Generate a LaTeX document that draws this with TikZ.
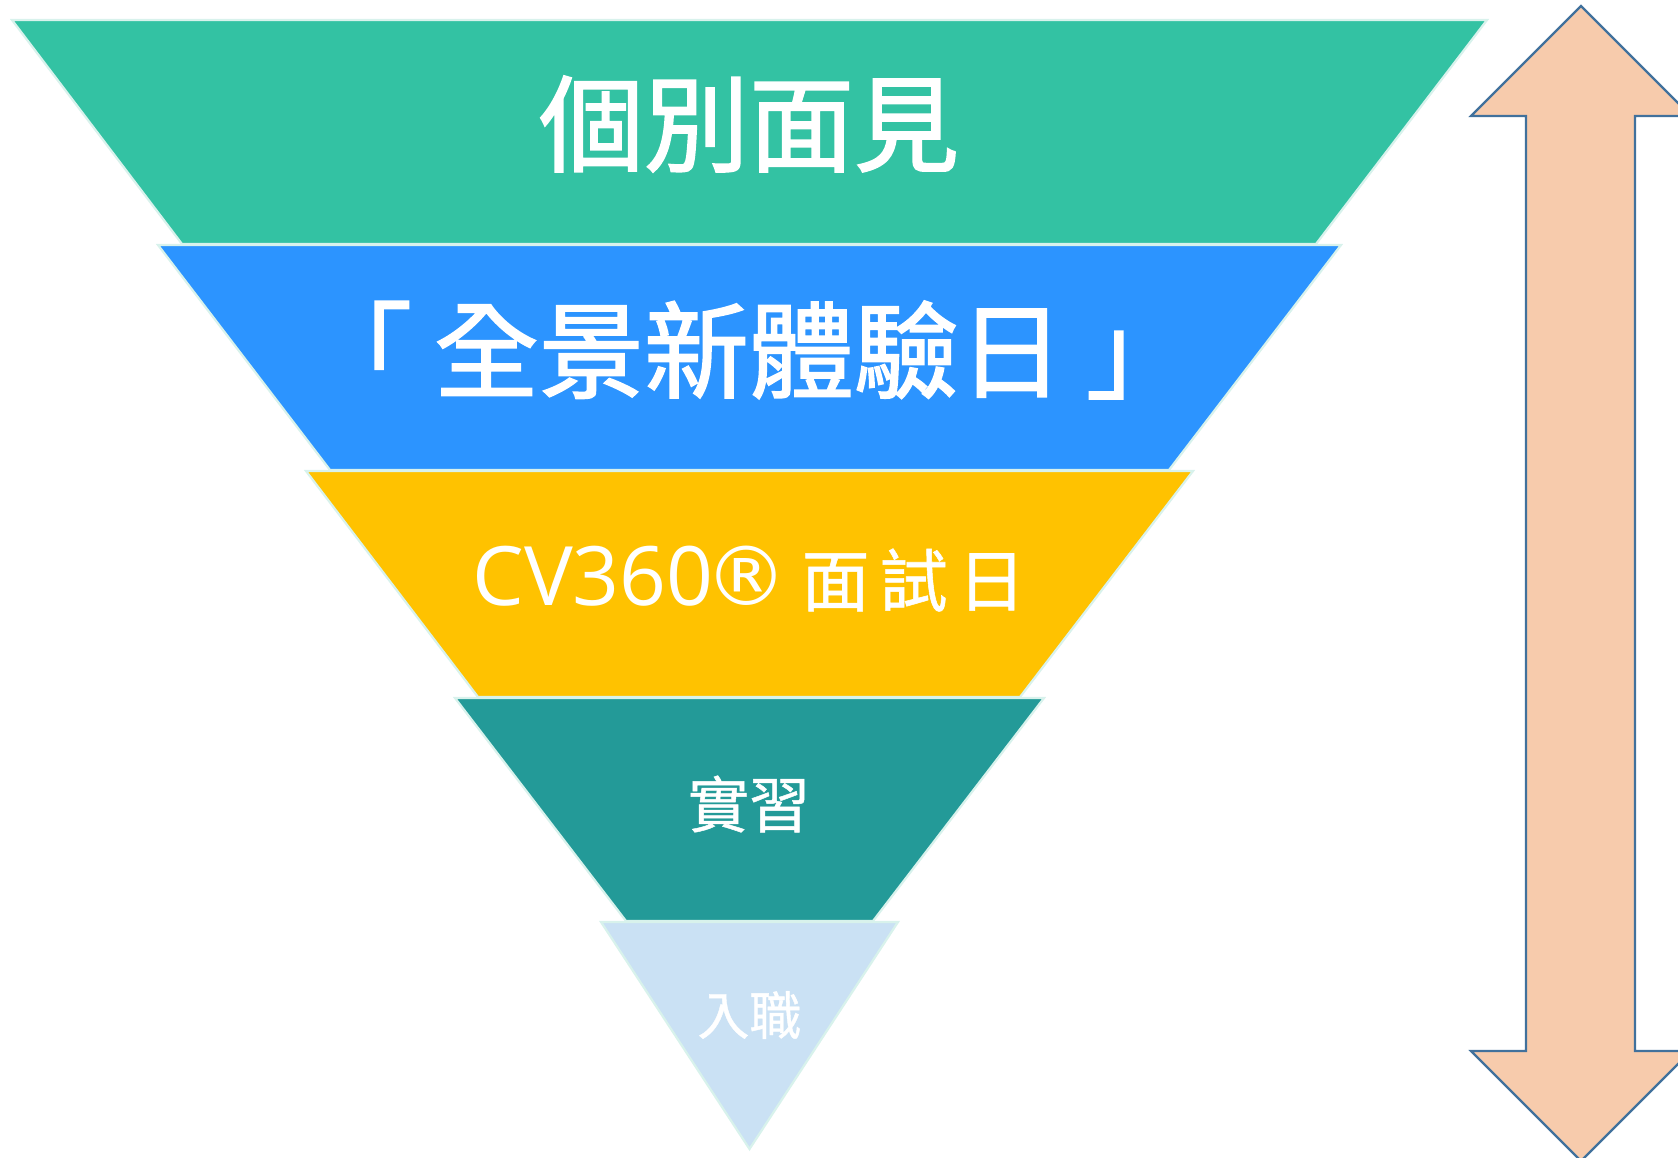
\documentclass[tikz,border=0pt]{standalone}
\usepackage{fontspec}
\newfontfamily\cjk[FakeBold=1.6]{Noto Sans CJK TC}
\newfontfamily\cjkm[FakeBold=0.8]{Noto Sans CJK TC}
\newfontfamily\latn{Open Sans}
\newfontfamily\symb{DejaVu Sans}
\definecolor{cgreen}{HTML}{33C2A3}
\definecolor{cblue}{HTML}{2C94FF}
\definecolor{cyellow}{HTML}{FFC200}
\definecolor{cteal}{HTML}{239A98}
\definecolor{clight}{HTML}{CAE1F4}
\definecolor{cedge}{HTML}{D8F2EC}
\definecolor{apeach}{HTML}{F7CBAC}
\definecolor{aline}{HTML}{41719C}
\tikzset{
  band/.style={draw=cedge, line width=2.2pt, line join=miter},
  lbl/.style={text=white, inner sep=0pt, anchor=center},
  bigarrow/.style={fill=apeach, draw=aline, line width=2.2pt, line join=miter}
}
\begin{document}
\begin{tikzpicture}[x=1pt,y=-1pt]
\useasboundingbox (0,0) rectangle (1678,1158);
\clip (0,0) rectangle (1678,1158);
% funnel bands
\path[band, fill=cgreen]  (12,20) -- (1487,20) -- (1316,244) -- (182,244) -- cycle;
\path[band, fill=cblue]   (158,245) -- (1341,245) -- (1169,470) -- (330,470) -- cycle;
\path[band, fill=cyellow] (306,471) -- (1193,471) -- (1020,697) -- (478,697) -- cycle;
\path[band, fill=cteal]   (455,698) -- (1044,698) -- (873,921) -- (626,921) -- cycle;
\path[band, fill=clight]  (601,922) -- (898,922) -- (749.5,1149) -- cycle;
% labels
\node[lbl, font=\cjk\fontsize{105}{110}\selectfont] (l1) at (749,124) {個別面見};
\node[lbl, font=\cjk\fontsize{105}{110}\selectfont] (l2) at (749,350) {「\kern22pt 全景新體驗日\kern22pt 」};
\node[lbl] (l3) at (749,579) {{\latn\fontsize{82}{86}\selectfont CV360}\kern-8pt{\symb\fontsize{82}{86}\selectfont ®}\kern14pt{\cjkm\fontsize{68}{86}\selectfont 面\kern10pt 試\kern10pt 日}};
\node[lbl, font=\cjkm\fontsize{61}{66}\selectfont] (l4) at (749,804) {實習};
\node[lbl, font=\cjkm\fontsize{52}{58}\selectfont] (l5) at (749.5,1015) {入職};
% double arrow
\path[bigarrow] (1581,6) -- (1691,116) -- (1635,116) -- (1635,1051) -- (1691,1051)
  -- (1581,1161) -- (1471,1051) -- (1526,1051) -- (1526,116) -- (1471,116) -- cycle;
\end{tikzpicture}
\end{document}
